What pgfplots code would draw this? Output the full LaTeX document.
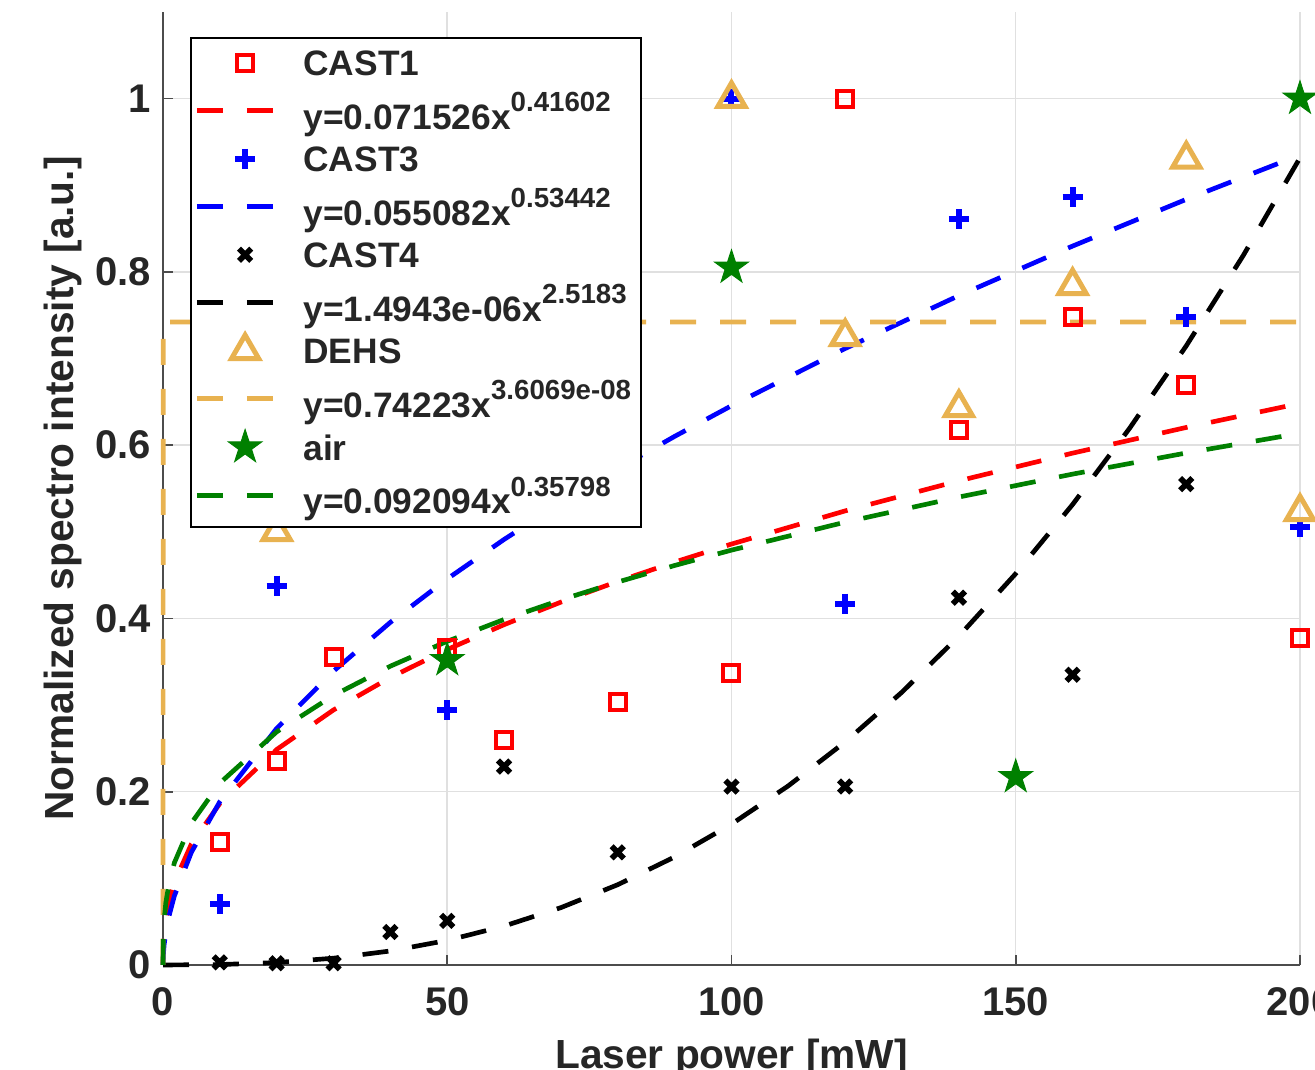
\documentclass[border=0pt]{standalone}
\usepackage{pgfplots}
\pgfplotsset{compat=1.18}
\usepackage{fontspec}
\setmainfont{Liberation Sans}
\definecolor{dehs}{RGB}{232,178,80}
\definecolor{airg}{RGB}{0,128,0}
\definecolor{txt}{RGB}{38,38,38}
\newcommand\supx[1]{\raisebox{5.2pt}{\fontsize{8.3}{9}\selectfont #1}}
\pgfdeclareplotmark{fstar}{%
  \pgfpathmoveto{\pgfqpointpolar{90}{\pgfplotmarksize}}%
  \pgfpathlineto{\pgfqpointpolar{126}{0.382\pgfplotmarksize}}%
  \pgfpathlineto{\pgfqpointpolar{162}{\pgfplotmarksize}}%
  \pgfpathlineto{\pgfqpointpolar{198}{0.382\pgfplotmarksize}}%
  \pgfpathlineto{\pgfqpointpolar{234}{\pgfplotmarksize}}%
  \pgfpathlineto{\pgfqpointpolar{270}{0.382\pgfplotmarksize}}%
  \pgfpathlineto{\pgfqpointpolar{306}{\pgfplotmarksize}}%
  \pgfpathlineto{\pgfqpointpolar{342}{0.382\pgfplotmarksize}}%
  \pgfpathlineto{\pgfqpointpolar{18}{\pgfplotmarksize}}%
  \pgfpathlineto{\pgfqpointpolar{54}{0.382\pgfplotmarksize}}%
  \pgfpathclose
  \pgfusepathqfillstroke}
\pgfplotsset{
  mklegend/.style={legend image code/.code={\draw[##1] plot coordinates {(14.5pt,0pt)}; \path (0pt,0pt) (29pt,0pt);}},
  lnlegend/.style={legend image code/.code={\draw[##1] (0pt,0pt) -- (23pt,0pt); \path (29pt,0pt);}},
  fitline/.style={line width=1.4pt, dash pattern=on 7.8pt off 7.2pt, mark=none, lnlegend},
}
\begin{document}
\begin{tikzpicture}
\begin{axis}[
  scale only axis, width=341.1pt, height=285.9pt,
  xmin=0, xmax=200, ymin=0, ymax=1.1,
  xtick={0,50,100,150,200}, ytick={0,0.2,0.4,0.6,0.8,1},
  axis lines*=left, x axis line style={-}, y axis line style={-},
  axis line style={black!70, line width=0.6pt},
  tick align=inside, major tick length=3pt, tick style={black!70, line width=0.5pt},
  grid=major, grid style={black!12, line width=0.45pt},
  ticklabel style={font=\fontsize{12}{14}\selectfont\bfseries, text=txt},
  xticklabel style={yshift=-3.3pt},
  /pgf/number format/assume math mode=true,
  xlabel={Laser power [mW]}, ylabel={Normalized spectro intensity [a.u.]},
  label style={font=\fontsize{12.2}{14}\selectfont\bfseries, text=txt},
  xlabel style={at={(axis description cs:0.5,-0.109)}, anchor=base},
  ylabel style={at={(axis description cs:-0.0783,0.5)}, anchor=base, rotate=0},
  clip=false,
  legend cell align=left,
  legend style={at={(axis description cs:0.0237,0.9738)}, anchor=north west,
    draw=black, line width=0.5pt, fill=white, text=txt,
    font=\fontsize{10.6}{12}\selectfont\bfseries,
    inner xsep=0.9pt, inner ysep=1.2pt, row sep=0pt, column sep=0pt,
    nodes={inner xsep=2.1pt, inner ysep=2.6pt, text depth=0pt}},
]
\coordinate (ll) at (rel axis cs:0,0);
\coordinate (ul) at (rel axis cs:0,1);
% CAST1
\addplot[only marks, mark=square, mark size=2.4pt, line width=1.2pt, red, mklegend]
  coordinates {(10,0.142) (20,0.236) (30,0.355) (50,0.366) (60,0.260) (80,0.303) (100,0.337) (120,1.0) (140,0.618) (160,0.748) (180,0.670) (200,0.378)};
\addlegendentry{CAST1}
\addplot[fitline, red] coordinates {(0,0) (0.05,0.02057) (0.2,0.03662) (0.5,0.05361) (1,0.07153) (2,0.09544) (5,0.13971) (10,0.18642) (20,0.24873) (30,0.29442) (40,0.33186) (50,0.36414) (60,0.39282) (70,0.41886) (80,0.44279) (90,0.46503) (100,0.48587) (120,0.52415) (140,0.55886) (160,0.59081) (180,0.62047) (200,0.64824)};
\addlegendentry{y=0.071526x\supx{0.41602}}
% CAST3
\addplot[only marks, mark=+, mark size=3pt, line width=1.8pt, blue, mklegend]
  coordinates {(10,0.070) (20,0.438) (50,0.294) (100,1.0) (120,0.417) (140,0.861) (160,0.886) (180,0.748) (200,0.506)};
\addlegendentry{CAST3}
\addplot[fitline, blue] coordinates {(0,0) (0.05,0.01111) (0.2,0.02331) (0.5,0.03803) (1,0.05508) (2,0.07978) (5,0.13018) (10,0.18856) (20,0.27309) (30,0.33919) (40,0.39556) (50,0.44564) (60,0.49120) (70,0.53340) (80,0.57285) (90,0.61014) (100,0.64552) (120,0.71155) (140,0.77264) (160,0.82981) (180,0.88374) (200,0.93492)};
\addlegendentry{y=0.055082x\supx{0.53442}}
% CAST4
\addplot[only marks, mark=x, mark size=2.6pt, line width=1.7pt, black, mklegend]
  coordinates {(10,0.003) (20,0.002) (30,0.002) (40,0.038) (50,0.051) (60,0.229) (80,0.130) (100,0.206) (120,0.206) (140,0.424) (160,0.335) (180,0.555)};
\addlegendentry{CAST4}
\addplot[fitline, black] coordinates {(0,0) (10,0.000493) (20,0.002826) (30,0.007838) (40,0.016184) (50,0.028388) (60,0.044911) (70,0.066228) (80,0.092691) (90,0.12473) (100,0.16258) (110,0.20681) (120,0.25747) (130,0.31500) (140,0.37955) (150,0.45172) (160,0.53152) (170,0.61923) (180,0.71472) (190,0.81873) (200,0.93170)};
\addlegendentry{y=1.4943e-06x\supx{2.5183}}
% DEHS
\addplot[only marks, mark=triangle, mark size=4.7pt, line width=1.5pt, dehs, mklegend]
  coordinates {(20,0.5) (100,1.0) (120,0.725) (140,0.643) (160,0.784) (180,0.93) (200,0.523)};
\addlegendentry{DEHS}
\addplot[fitline, dehs] coordinates {(0,0) (0.05,0.74223) (200,0.74223)};
\addlegendentry{y=0.74223x\supx{3.6069e-08}}
% air
\addplot[only marks, mark=fstar, mark size=5.3pt, airg, mark options={fill=airg, draw=airg, line width=0.3pt}, mklegend]
  coordinates {(50,0.352) (100,0.805) (150,0.217) (200,1.0)};
\addlegendentry{air}
\addplot[fitline, airg] coordinates {(0,0) (0.05,0.03151) (0.2,0.05177) (0.5,0.07185) (1,0.09209) (2,0.11803) (5,0.16386) (10,0.20999) (20,0.26914) (30,0.31118) (40,0.34492) (50,0.37360) (60,0.39880) (70,0.42144) (80,0.44206) (90,0.46113) (100,0.47885) (120,0.51114) (140,0.54012) (160,0.56659) (180,0.59099) (200,0.61369)};
\addlegendentry{y=0.092094x\supx{0.35798}}
\end{axis}
\pgfresetboundingbox
\useasboundingbox ([xshift=-48.9pt,yshift=-31.5pt]ll) rectangle ([xshift=345.6pt,yshift=3.6pt]ul);
\end{tikzpicture}
\end{document}
